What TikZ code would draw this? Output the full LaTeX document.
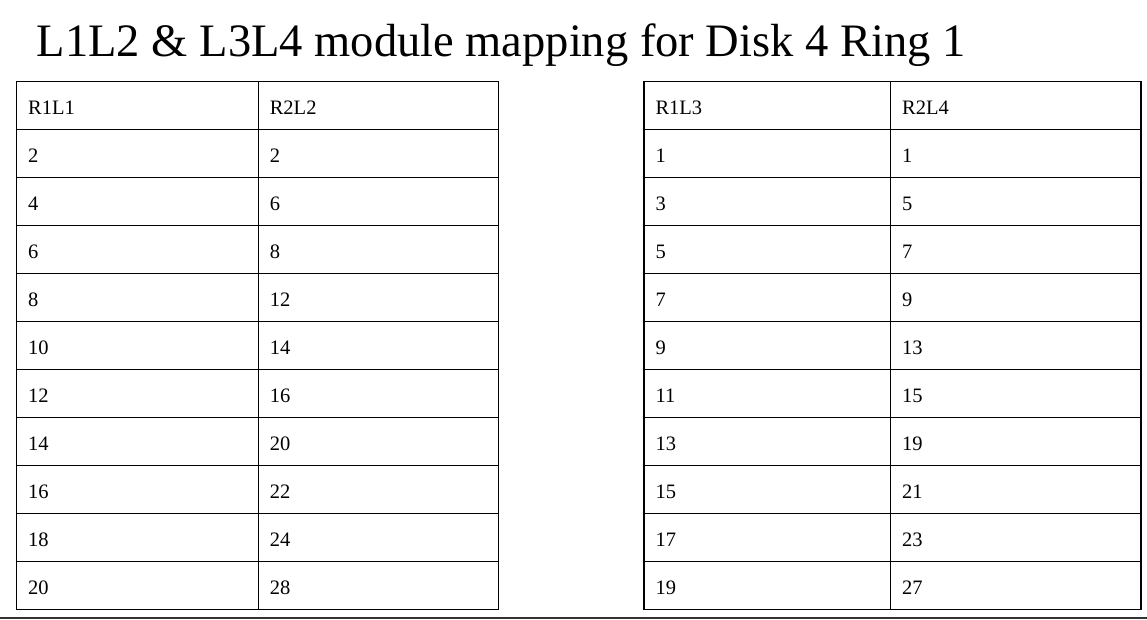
\documentclass[tikz,border=0pt]{standalone}
\usepackage{fontspec}
\setmainfont{Liberation Serif}
\usetikzlibrary{positioning}

\begin{document}
\begin{tikzpicture}[x=1pt, y=-1pt, font=\fontsize{20.5}{24}\selectfont,
    every node/.style={align=left},
    cell/.style={rectangle, draw, line width=1.2pt, anchor=north west, outer sep=0pt,
        minimum height=48pt, inner xsep=11.5pt, inner ysep=0pt,
        text height=17pt, text depth=0pt},
    cellA/.style={cell, minimum width=241.6pt, text width=218.6pt},
    cellB/.style={cell, minimum width=240.4pt, text width=217.4pt},
    cellC/.style={cell, minimum width=246.7pt, text width=223.7pt},
    cellD/.style={cell, minimum width=250.3pt, text width=227.3pt},
]
\useasboundingbox (0,0) rectangle (1147,619);

\node[anchor=base west, inner sep=0pt, font=\fontsize{46.5}{50}\selectfont] (title) at (36.7,56)
  {L1L2 \& L3L4 module mapping for Disk 4 Ring 1};

% L1L2 table
\node[cellA] (l0a) at (16.7,81.7) {R1L1};
\node[cellB] (l0b) at (258.3,81.7) {R2L2};
\foreach \a/\b [count=\i] in {2/2,4/6,6/8,8/12,10/14,12/16,14/20,16/22,18/24,20/28} {
  \node[cellA] (l\i a) at (16.7,{81.7+48*\i}) {\a};
  \node[cellB] (l\i b) at (258.3,{81.7+48*\i}) {\b};
}

% L3L4 table
\node[cellC] (r0a) at (644,81.7) {R1L3};
\node[cellD] (r0b) at (890.7,81.7) {R2L4};
\foreach \a/\b [count=\i] in {1/1,3/5,5/7,7/9,9/13,11/15,13/19,15/21,17/23,19/27} {
  \node[cellC] (r\i a) at (644,{81.7+48*\i}) {\a};
  \node[cellD] (r\i b) at (890.7,{81.7+48*\i}) {\b};
}

\draw[line width=2.4pt, draw=black!80] (0,617.7) -- (1147,617.7);

\end{tikzpicture}
\end{document}
